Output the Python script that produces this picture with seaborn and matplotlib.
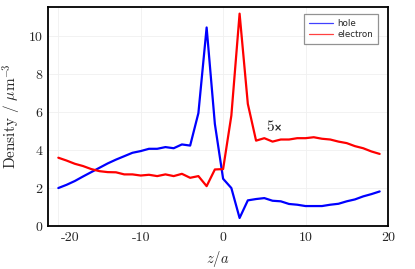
import numpy as np
import pandas as pd
import matplotlib
matplotlib.use("Agg")
import matplotlib.pyplot as plt
import matplotlib.transforms as mtransforms
import seaborn as sns

z = list(range(-20, 20))
hole = [2.0, 2.17, 2.37, 2.61, 2.84, 3.07, 3.3, 3.5, 3.68, 3.86,
        3.95, 4.07, 4.07, 4.16, 4.1, 4.3, 4.24, 5.95, 10.47, 5.38,
        2.49, 2.0, 0.42, 1.35, 1.42, 1.47, 1.33, 1.3, 1.16, 1.12,
        1.05, 1.05, 1.05, 1.12, 1.17, 1.3, 1.4, 1.56, 1.68, 1.82]
electron = [3.6, 3.45, 3.28, 3.16, 3.0, 2.89, 2.84, 2.83, 2.72, 2.72,
            2.66, 2.7, 2.63, 2.72, 2.63, 2.75, 2.54, 2.63, 2.1, 2.98,
            3.0, 5.82, 11.2, 6.44, 4.5, 4.63, 4.45, 4.56, 4.56, 4.63,
            4.63, 4.68, 4.6, 4.56, 4.45, 4.37, 4.21, 4.1, 3.93, 3.8]
xticks = [-20, -10, 0, 10, 20]
xticklabels = ["-20", "-10", "0", "10", "20"]
yticks = [0, 2, 4, 6, 8, 10]
yticklabels = ["0", "2", "4", "6", "8", "10"]

df = pd.DataFrame({
    "z": z + z,
    "density": hole + electron,
    "carrier": ["hole"] * len(z) + ["electron"] * len(z),
})

sns.set_style("white")
plt.rcParams["mathtext.fontset"] = "cm"
plt.rcParams["font.family"] = ["cmr10", "DejaVu Serif"]
plt.rcParams["axes.unicode_minus"] = False

fig = plt.figure(figsize=(4.15, 2.69), dpi=100)
ax = fig.add_axes([0.1157, 0.16, 0.819, 0.814])

sns.lineplot(data=df, x="z", y="density", hue="carrier",
             palette={"hole": "#0000ff", "electron": "#ff0000"},
             linewidth=1.6, ax=ax, legend=False)

ax.set_xlim(-21.25, 20)
ax.set_ylim(0, 11.55)
ax.set_xticks(xticks)
ax.set_xticklabels(xticklabels, fontsize=10)
ax.set_yticks(yticks)
ax.set_yticklabels(yticklabels, fontsize=10)
ax.grid(True, color="#f0f0f0", linewidth=0.6)
ax.tick_params(axis="both", length=0, pad=4)
for s in ax.spines.values():
    s.set_color("black")
    s.set_linewidth(1.3)

# the first x tick label sits offset to the right in the reference
lab0 = ax.get_xticklabels()[0]
lab0.set_transform(lab0.get_transform() +
                   mtransforms.ScaledTranslation(12 / 100, 0, fig.dpi_scale_trans))

ax.set_xlabel(r"$z/a$", fontsize=10.5)
ax.set_ylabel(r"Density / $\mu$m$^{-\!3}$", fontsize=11)

ax.text(5.74, 5.0, "5", fontsize=11, ha="center", va="baseline")
ax.text(6.6, 5.0, "×", fontsize=7, fontweight="bold", family="DejaVu Sans",
        ha="center", va="baseline")

lines = ax.get_lines()
leg = ax.legend(lines[:2], ["hole", "electron"], loc="upper right",
                prop={"family": "DejaVu Sans", "size": 6.3},
                frameon=True, fancybox=False, edgecolor="#777777",
                handlelength=2.8, handletextpad=0.5, borderpad=0.55,
                labelspacing=0.25, borderaxespad=0,
                bbox_to_anchor=(0.971, 0.968))
leg.get_frame().set_linewidth(0.9)
for h in leg.get_lines():
    h.set_linewidth(0.9)
    h.set_alpha(0.75)

fig.savefig("out.png", dpi=100)
